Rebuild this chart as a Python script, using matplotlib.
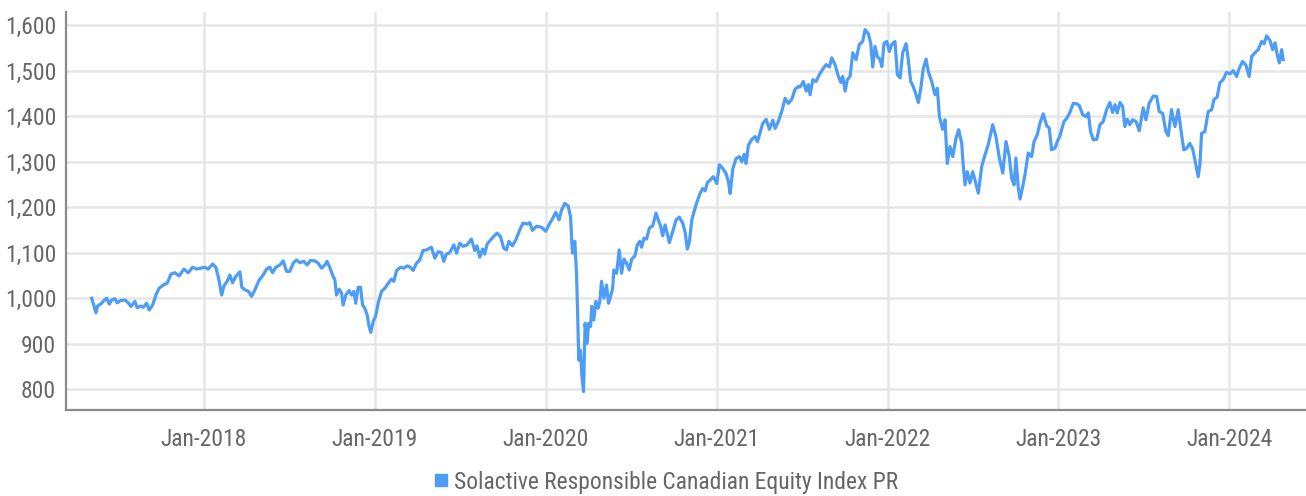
import math
from datetime import datetime
import matplotlib
matplotlib.use("Agg")
import matplotlib.pyplot as plt
import matplotlib.dates as mdates
from matplotlib import font_manager as fm
from matplotlib.lines import Line2D
from matplotlib.ticker import FuncFormatter, FixedLocator

# ---- data (dates as decimal years) ----
decimal_dates = [
    2017.343, 2017.352, 2017.368, 2017.378, 2017.396, 2017.415, 2017.431, 2017.446, 2017.460, 2017.479,
    2017.493, 2017.513, 2017.538, 2017.557, 2017.573, 2017.596, 2017.610, 2017.630, 2017.645, 2017.665,
    2017.680, 2017.700, 2017.719, 2017.738, 2017.762, 2017.785, 2017.807, 2017.830, 2017.855, 2017.883,
    2017.908, 2017.934, 2017.957, 2017.981, 2018.006, 2018.025, 2018.051, 2018.070, 2018.086, 2018.104,
    2018.117, 2018.136, 2018.152, 2018.168, 2018.187, 2018.211, 2018.222, 2018.242, 2018.262, 2018.279,
    2018.298, 2018.324,
    2018.347, 2018.367, 2018.386, 2018.402, 2018.421, 2018.445, 2018.464, 2018.484, 2018.503, 2018.523,
    2018.542, 2018.562, 2018.585, 2018.604, 2018.624, 2018.650, 2018.669, 2018.689, 2018.708, 2018.721,
    2018.737, 2018.753, 2018.767, 2018.776, 2018.792, 2018.806, 2018.815, 2018.831, 2018.850, 2018.864,
    2018.878, 2018.889, 2018.903, 2018.917, 2018.929, 2018.942, 2018.956, 2018.967, 2018.977, 2018.991,
    2019.006, 2019.020, 2019.040, 2019.059, 2019.078, 2019.098, 2019.112, 2019.128, 2019.151, 2019.170,
    2019.190, 2019.209, 2019.225, 2019.245, 2019.264, 2019.283, 2019.303, 2019.332, 2019.352, 2019.371,
    2019.391, 2019.404, 2019.420, 2019.439,
    2019.463, 2019.479, 2019.498, 2019.517, 2019.541, 2019.566, 2019.586, 2019.599, 2019.615, 2019.631,
    2019.644, 2019.658, 2019.678, 2019.697, 2019.716, 2019.736, 2019.755, 2019.771, 2019.786, 2019.806,
    2019.826, 2019.849, 2019.868, 2019.892, 2019.908, 2019.923, 2019.947, 2019.976, 2020.001, 2020.021,
    2020.040, 2020.060, 2020.079, 2020.093, 2020.112, 2020.132, 2020.146, 2020.157, 2020.171, 2020.181,
    2020.187, 2020.194, 2020.204, 2020.212, 2020.222, 2020.231, 2020.243, 2020.251, 2020.263, 2020.270,
    2020.282, 2020.294, 2020.307, 2020.317, 2020.327, 2020.341, 2020.356, 2020.368, 2020.380, 2020.392,
    2020.399, 2020.415, 2020.430, 2020.444, 2020.458, 2020.473, 2020.489, 2020.503, 2020.522, 2020.536,
    2020.551,
    2020.561, 2020.575, 2020.590, 2020.606, 2020.626, 2020.645, 2020.658, 2020.672, 2020.684, 2020.698,
    2020.711, 2020.723, 2020.743, 2020.762, 2020.781, 2020.801, 2020.816, 2020.828, 2020.840, 2020.854,
    2020.867, 2020.883, 2020.902, 2020.918, 2020.932, 2020.945, 2020.965, 2020.980, 2021.000, 2021.015,
    2021.035, 2021.054, 2021.068, 2021.078, 2021.094, 2021.113, 2021.132, 2021.146, 2021.160, 2021.171,
    2021.185, 2021.205, 2021.224, 2021.238, 2021.249, 2021.269, 2021.289, 2021.308, 2021.328, 2021.341,
    2021.360, 2021.380, 2021.400, 2021.419, 2021.439, 2021.458, 2021.478,
    2021.487, 2021.507, 2021.523, 2021.536, 2021.546, 2021.562, 2021.581, 2021.600, 2021.620, 2021.640,
    2021.659, 2021.673, 2021.692, 2021.712, 2021.726, 2021.737, 2021.751, 2021.764, 2021.780, 2021.796,
    2021.815, 2021.834, 2021.854, 2021.868, 2021.887, 2021.901, 2021.913, 2021.926, 2021.940, 2021.956,
    2021.966, 2021.979, 2021.995, 2022.010, 2022.024, 2022.043, 2022.057, 2022.073, 2022.088, 2022.108,
    2022.121, 2022.135, 2022.150, 2022.166, 2022.180, 2022.194, 2022.209, 2022.225, 2022.238, 2022.258,
    2022.277, 2022.291, 2022.303, 2022.322, 2022.336, 2022.349, 2022.365, 2022.381, 2022.400, 2022.416,
    2022.434,
    2022.440, 2022.453, 2022.466, 2022.482, 2022.498, 2022.511, 2022.531, 2022.551, 2022.570, 2022.589,
    2022.615, 2022.634, 2022.654, 2022.674, 2022.693, 2022.712, 2022.726, 2022.740, 2022.751, 2022.765,
    2022.775, 2022.791, 2022.804, 2022.823, 2022.843, 2022.857, 2022.876, 2022.892, 2022.911, 2022.931,
    2022.946, 2022.960, 2022.980, 2022.993, 2023.009, 2023.032, 2023.048, 2023.067, 2023.087, 2023.107,
    2023.122, 2023.142, 2023.161, 2023.175, 2023.188, 2023.204, 2023.224, 2023.243, 2023.262, 2023.282,
    2023.301, 2023.317, 2023.331, 2023.344, 2023.360, 2023.376, 2023.389, 2023.403, 2023.418, 2023.434,
    2023.454, 2023.473,
    2023.496, 2023.512, 2023.531, 2023.555, 2023.575, 2023.590, 2023.610, 2023.629, 2023.643, 2023.662,
    2023.682, 2023.701, 2023.721, 2023.734, 2023.750, 2023.769, 2023.785, 2023.799, 2023.818, 2023.828,
    2023.838, 2023.857, 2023.877, 2023.897, 2023.910, 2023.929, 2023.945, 2023.964, 2023.984, 2024.004,
    2024.023, 2024.043, 2024.058, 2024.078, 2024.097, 2024.116, 2024.131, 2024.150, 2024.169, 2024.189,
    2024.203, 2024.218, 2024.238, 2024.253, 2024.267, 2024.280, 2024.292, 2024.306, 2024.315,
]

index_level = [
    1000, 989, 968, 983, 987, 995, 1000, 987, 996, 999,
    990, 995, 996, 990, 982, 993, 979, 983, 980, 989,
    974, 985, 1007, 1022, 1029, 1033, 1053, 1056, 1049, 1064,
    1056, 1068, 1064, 1066, 1068, 1064, 1075, 1068, 1044, 1007,
    1027, 1037, 1051, 1034, 1048, 1058, 1024, 1018, 1015, 1004,
    1018, 1040,
    1051, 1064, 1068, 1056, 1068, 1073, 1082, 1059, 1059, 1077,
    1084, 1078, 1081, 1073, 1083, 1082, 1077, 1066, 1073, 1081,
    1068, 1051, 1040, 1007, 1020, 1011, 985, 1007, 1017, 1007,
    1015, 989, 1024, 1024, 985, 978, 963, 938, 925, 949,
    961, 989, 1015, 1022, 1032, 1042, 1037, 1061, 1068, 1066,
    1071, 1068, 1061, 1077, 1084, 1105, 1106, 1112, 1088, 1102,
    1100, 1081, 1097, 1100,
    1117, 1099, 1121, 1114, 1117, 1130, 1105, 1115, 1090, 1108,
    1097, 1119, 1128, 1136, 1143, 1136, 1110, 1106, 1125, 1115,
    1128, 1150, 1165, 1163, 1166, 1149, 1158, 1156, 1147, 1162,
    1174, 1189, 1172, 1193, 1208, 1203, 1179, 1099, 1125, 1055,
    974, 864, 886, 831, 795, 945, 901, 945, 938, 982,
    952, 993, 978, 993, 1037, 1000, 1029, 989, 1004, 1022,
    1062, 1055, 1106, 1055, 1086, 1077, 1062, 1086, 1093, 1117,
    1125,
    1112, 1132, 1130, 1154, 1159, 1187, 1172, 1158, 1137, 1161,
    1142, 1122, 1147, 1172, 1178, 1165, 1143, 1108, 1124, 1172,
    1190, 1210, 1230, 1241, 1236, 1254, 1261, 1267, 1252, 1293,
    1285, 1274, 1256, 1230, 1285, 1307, 1311, 1300, 1316, 1296,
    1336, 1349, 1355, 1344, 1358, 1384, 1393, 1371, 1391, 1373,
    1388, 1410, 1439, 1428, 1437, 1459, 1465,
    1464, 1476, 1455, 1469, 1447, 1480, 1476, 1491, 1503, 1513,
    1508, 1528, 1513, 1487, 1474, 1487, 1455, 1480, 1487, 1539,
    1524, 1557, 1564, 1590, 1581, 1560, 1508, 1553, 1531, 1524,
    1509, 1560, 1564, 1542, 1557, 1564, 1491, 1484, 1539, 1559,
    1524, 1476, 1465, 1447, 1430, 1461, 1505, 1525, 1498, 1476,
    1447, 1461, 1399, 1371, 1392, 1296, 1333, 1311, 1351, 1370,
    1340,
    1304, 1249, 1278, 1253, 1278, 1260, 1231, 1290, 1315, 1337,
    1381, 1355, 1308, 1275, 1344, 1311, 1264, 1249, 1308, 1242,
    1218, 1246, 1271, 1319, 1311, 1344, 1359, 1385, 1405, 1379,
    1374, 1326, 1330, 1344, 1357, 1388, 1395, 1408, 1428, 1427,
    1423, 1403, 1399, 1407, 1366, 1348, 1349, 1381, 1388, 1414,
    1430, 1408, 1425, 1407, 1430, 1421, 1377, 1393, 1381, 1392,
    1388, 1368,
    1418, 1392, 1428, 1444, 1443, 1410, 1406, 1366, 1357, 1414,
    1377, 1414, 1359, 1326, 1329, 1340, 1329, 1304, 1267, 1293,
    1362, 1366, 1410, 1414, 1436, 1442, 1473, 1480, 1496, 1493,
    1500, 1487, 1505, 1520, 1512, 1487, 1531, 1539, 1546, 1564,
    1559, 1576, 1566, 1546, 1561, 1535, 1517, 1546, 1524,
]

series_name = "Solactive Responsible Canadian Equity Index PR"
tick_years = [2018, 2019, 2020, 2021, 2022, 2023, 2024]
y_ticks = [800, 900, 1000, 1100, 1200, 1300, 1400, 1500, 1600]


def to_datetime(t):
    y = int(math.floor(t))
    start = datetime(y, 1, 1)
    nxt = datetime(y + 1, 1, 1)
    return start + (nxt - start) * (t - y)


n = min(len(decimal_dates), len(index_level))
dates = [to_datetime(t) for t in decimal_dates[:n]]
values = index_level[:n]

# ---- font: prefer a condensed sans if one is installed ----
entries = fm.fontManager.ttflist
names = {f.name for f in entries}
stretch = 'normal'
if 'Roboto Condensed' in names:
    family = 'Roboto Condensed'
elif 'Liberation Sans Narrow' in names:
    family = 'Liberation Sans Narrow'
elif any(f.name == 'DejaVu Sans' and str(f.stretch) == 'condensed' for f in entries):
    family = 'DejaVu Sans'
    stretch = 'condensed'
else:
    family = 'Roboto'
plt.rcParams['font.family'] = [family, 'DejaVu Sans']
plt.rcParams['font.stretch'] = stretch

line_color = '#4d9cf5'
text_color = '#666666'
grid_color = '#e6e6e6'
spine_color = '#8a8a8a'

fig = plt.figure(figsize=(13.06, 4.96), dpi=100)

# fit the font size so that the legend text spans about the same width as the reference
renderer = fig.canvas.get_renderer()
probe = fig.text(0, 0, series_name, fontsize=16)
w = probe.get_window_extent(renderer).width
probe.remove()
fsize = 16 * 445.0 / w

ax = fig.add_axes([0.0505, 0.1734, 0.9495, 0.8018])

ax.plot(dates, values, color=line_color, lw=2.3, solid_joinstyle='round', zorder=3)

ax.set_xlim(to_datetime(2017.1925), to_datetime(2024.448))
ax.set_ylim(754.5, 1628)

ax.xaxis.set_major_locator(FixedLocator([mdates.date2num(datetime(y, 1, 1)) for y in tick_years]))
ax.xaxis.set_major_formatter(mdates.DateFormatter('%b-%Y'))
ax.yaxis.set_major_locator(FixedLocator(y_ticks))
ax.yaxis.set_major_formatter(FuncFormatter(lambda v, p: f"{v:,.0f}"))

ax.grid(True, color=grid_color, lw=1.8, zorder=0)
ax.set_axisbelow(True)
for s in ['top', 'right']:
    ax.spines[s].set_visible(False)
for s in ['left', 'bottom']:
    ax.spines[s].set_color(spine_color)
    ax.spines[s].set_linewidth(1.6)

ax.tick_params(axis='both', length=0, labelsize=fsize, labelcolor=text_color)
ax.tick_params(axis='x', pad=13)
ax.tick_params(axis='y', pad=7)

handle = Line2D([], [], color=line_color, marker='s', linestyle='none', markersize=9)
fig.legend([handle], [series_name], loc='center', bbox_to_anchor=(0.51, 0.028),
           frameon=False, fontsize=fsize, labelcolor=text_color,
           handlelength=0.6, handletextpad=0.25, borderpad=0)

fig.savefig('out.png', dpi=100)
